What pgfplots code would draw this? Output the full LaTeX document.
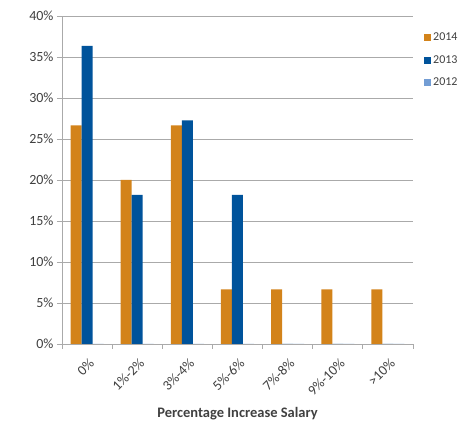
\documentclass[border=0pt]{standalone}
\usepackage{fontspec}
\setmainfont{Carlito}
\usepackage{pgfplots}
\pgfplotsset{compat=1.18}
\definecolor{c2014}{RGB}{211,131,26}
\definecolor{c2013}{RGB}{0,83,155}
\definecolor{c2012}{RGB}{115,157,212}
\definecolor{gridc}{RGB}{170,170,170}
\definecolor{txt}{RGB}{64,64,64}
\begin{document}
\begin{tikzpicture}
\path[use as bounding box] (0,0) rectangle (461pt,422pt);
\begin{axis}[
  at={(62pt,78pt)}, anchor=south west,
  scale only axis, width=351pt, height=328pt,
  ybar=0pt, bar width=11pt,
  xmin=-0.5, xmax=6.5, ymin=0, ymax=40,
  xtick={0,1,2,3,4,5,6},
  xticklabels={0\%,1\%-2\%,3\%-4\%,5\%-6\%,7\%-8\%,9\%-10\%,>10\%},
  minor xtick={-0.5,0.5,1.5,2.5,3.5,4.5,5.5,6.5},
  ytick={0,5,...,40},
  yticklabel={\pgfmathprintnumber{\tick}\%},
  /pgf/number format/assume math mode=true,
  ymajorgrids, grid style={gridc, line width=0.8pt},
  axis lines=left, axis line style={-, gridc, line width=0.8pt},
  tick align=outside,
  x tick style={draw=none},
  minor x tick style={draw=gridc, line width=0.8pt},
  minor tick length=5pt,
  y tick style={gridc, line width=0.8pt},
  major tick length=5pt,
  tick label style={font=\fontsize{14}{16}\selectfont, text=txt},
  x tick label style={rotate=45, anchor=east, yshift=-12pt, xshift=-2pt},
  xlabel={\textbf{Percentage Increase Salary}},
  xlabel style={at={(axis description cs:0.5,-0.2226)}, anchor=base, font=\fontsize{14.5}{16}\selectfont, text=txt},
  legend style={at={(axis cs:6.5,40)}, anchor=north west, xshift=8pt, yshift=-13pt, draw=none, fill=none,
    font=\fontsize{12}{14}\selectfont, text=txt, row sep=9pt, cells={anchor=west}},
  legend image code/.code={\fill[#1] (0pt,-3.5pt) rectangle (7pt,3.5pt);},
]
\addplot[fill=c2014, draw=none] coordinates {(0,26.67) (1,20) (2,26.67) (3,6.67) (4,6.67) (5,6.67) (6,6.67)};
\addplot[fill=c2013, draw=none] coordinates {(0,36.36) (1,18.18) (2,27.27) (3,18.18) (4,0) (5,0) (6,0)};
\addplot[fill=c2012, draw=none] coordinates {(0,0) (1,0) (2,0) (3,0) (4,0) (5,0) (6,0)};
\legend{2014,2013,2012}
\end{axis}
\end{tikzpicture}
\end{document}
